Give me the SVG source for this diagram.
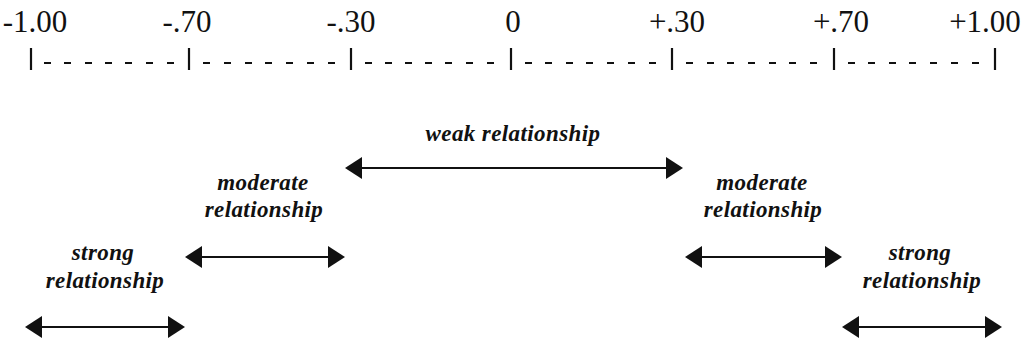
<svg xmlns="http://www.w3.org/2000/svg" width="1025" height="343" viewBox="0 0 1025 343">
<style>
.num{font-family:"Liberation Serif","Times New Roman",serif;font-size:31px;fill:#111;text-anchor:middle}
.lbl{font-family:"Liberation Serif","Times New Roman",serif;font-size:23px;font-weight:bold;font-style:italic;letter-spacing:0.4px;fill:#111;text-anchor:middle}
.tick{stroke:#111;stroke-width:2.2}
.dash{stroke:#111;stroke-width:2.2}
.arr{stroke:#111;stroke-width:2;fill:none;marker-start:url(#ah);marker-end:url(#ah)}
</style>
<defs>
<marker id="ah" markerUnits="userSpaceOnUse" markerWidth="18" markerHeight="24" viewBox="0 0 18 24" refX="7" refY="12" orient="auto-start-reverse">
<path d="M0,1 L17,12 L0,23 z" fill="#111"/>
</marker>
</defs>
<g id="scale">
<text class="num" x="35" y="32">-1.00</text>
<text class="num" x="187" y="32">-.70</text>
<text class="num" x="351" y="32">-.30</text>
<text class="num" x="513" y="32">0</text>
<text class="num" x="677" y="32">+.30</text>
<text class="num" x="841" y="32">+.70</text>
<text class="num" x="985" y="32">+1.00</text>
<g id="ticks">
<line class="tick" x1="31" y1="48" x2="31" y2="70"/>
<line class="tick" x1="189" y1="48" x2="189" y2="70"/>
<line class="tick" x1="351" y1="48" x2="351" y2="70"/>
<line class="tick" x1="511" y1="48" x2="511" y2="70"/>
<line class="tick" x1="672" y1="48" x2="672" y2="70"/>
<line class="tick" x1="834" y1="48" x2="834" y2="70"/>
<line class="tick" x1="995" y1="48" x2="995" y2="70"/>
</g>
<g id="dashes">
<path class="dash" d="M44,63h7M64,63h7M85,63h7M105,63h7M125,63h7M146,63h7M167,63h7"/>
<path class="dash" d="M203,63h7M224,63h7M245,63h7M265,63h7M286,63h7M307,63h7M328,63h7"/>
<path class="dash" d="M365,63h7M385,63h7M405,63h7M425,63h7M445,63h7M466,63h7M487,63h7"/>
<path class="dash" d="M525,63h7M545,63h7M566,63h7M586,63h7M607,63h7M628,63h7M649,63h7"/>
<path class="dash" d="M686,63h7M707,63h7M727,63h7M748,63h7M769,63h7M789,63h7M810,63h7"/>
<path class="dash" d="M848,63h7M868,63h7M889,63h7M909,63h7M930,63h7M951,63h7M972,63h7"/>
</g>
</g>
<g id="weak">
<text class="lbl" x="513" y="141">weak relationship</text>
</g>
<g id="moderate-left">
<text class="lbl" x="263" y="190">moderate</text>
<text class="lbl" x="264" y="217">relationship</text>
</g>
<g id="moderate-right">
<text class="lbl" x="762" y="190">moderate</text>
<text class="lbl" x="763" y="217">relationship</text>
</g>
<g id="strong-left">
<text class="lbl" x="103" y="260">strong</text>
<text class="lbl" x="105" y="288">relationship</text>
</g>
<g id="strong-right">
<text class="lbl" x="920" y="260">strong</text>
<text class="lbl" x="922" y="288">relationship</text>
</g>
<g id="connectors">
<line class="arr" x1="355" y1="168" x2="673" y2="168"/>
<line class="arr" x1="195" y1="257" x2="335" y2="257"/>
<line class="arr" x1="695" y1="257" x2="832" y2="257"/>
<line class="arr" x1="35" y1="327" x2="175" y2="327"/>
<line class="arr" x1="852" y1="327" x2="992" y2="327"/>
</g>
</svg>
